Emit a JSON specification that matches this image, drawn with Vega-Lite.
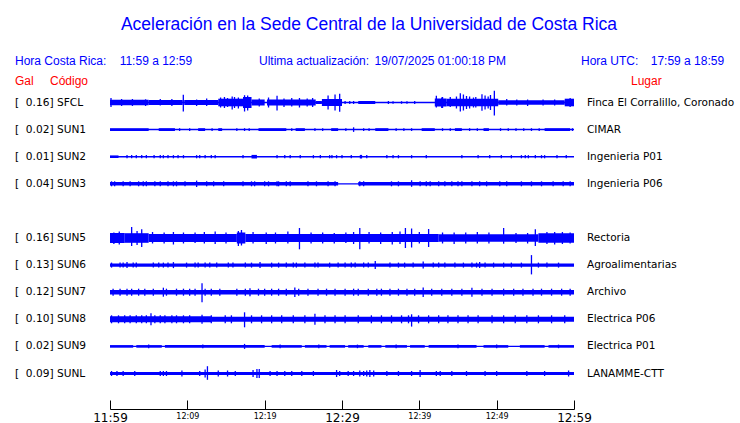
{
"$schema": "https://vega.github.io/schema/vega-lite/v6.json",
"width": 464,
"height": 319,
"autosize": {"type": "none"},
"padding": {"left": 110, "top": 90, "right": 166, "bottom": 14},
"background": "white",
"config": {"view": {"stroke": null}},
"datasets": {
"stations": [
{"s":"SFCL","gal":0.16,"lane":0,"place":"Finca El Corralillo, Coronado"},
{"s":"SUN1","gal":0.02,"lane":1,"place":"CIMAR"},
{"s":"SUN2","gal":0.01,"lane":2,"place":"Ingenieria P01"},
{"s":"SUN3","gal":0.04,"lane":3,"place":"Ingenieria P06"},
{"s":"SUN5","gal":0.16,"lane":5,"place":"Rectoria"},
{"s":"SUN6","gal":0.13,"lane":6,"place":"Agroalimentarias"},
{"s":"SUN7","gal":0.12,"lane":7,"place":"Archivo"},
{"s":"SUN8","gal":0.10,"lane":8,"place":"Electrica P06"},
{"s":"SUN9","gal":0.02,"lane":9,"place":"Electrica P01"},
{"s":"SUNL","gal":0.09,"lane":10,"place":"LANAMME-CTT"}
],
"bands": [
{"s":"SFCL","t0":0,"t1":60,"a":0.7},
{"s":"SFCL","t0":0,"t1":5.0,"a":2.8},
{"s":"SFCL","t0":5.0,"t1":9.4,"a":2.6},
{"s":"SFCL","t0":9.6,"t1":14.0,"a":2.4},
{"s":"SFCL","t0":14.0,"t1":17.2,"a":3.8},
{"s":"SFCL","t0":17.2,"t1":18.3,"a":5.5},
{"s":"SFCL","t0":18.3,"t1":20.0,"a":3.0},
{"s":"SFCL","t0":20.3,"t1":26.6,"a":2.9},
{"s":"SFCL","t0":26.6,"t1":27.4,"a":1.5},
{"s":"SFCL","t0":27.4,"t1":30.0,"a":3.5},
{"s":"SFCL","t0":32.1,"t1":34.3,"a":1.5},
{"s":"SFCL","t0":42.0,"t1":43.5,"a":4.0},
{"s":"SFCL","t0":43.5,"t1":50.2,"a":3.8},
{"s":"SFCL","t0":50.2,"t1":58.8,"a":2.2},
{"s":"SFCL","t0":58.8,"t1":60,"a":3.8},
{"s":"SUN1","t0":0,"t1":60,"a":0.75},
{"s":"SUN1","t0":0,"t1":5.0,"a":1.4},
{"s":"SUN1","t0":6.3,"t1":8.4,"a":1.4},
{"s":"SUN1","t0":11.4,"t1":12.3,"a":1.4},
{"s":"SUN1","t0":14.0,"t1":14.5,"a":1.4},
{"s":"SUN1","t0":19.2,"t1":22.8,"a":1.4},
{"s":"SUN1","t0":24.0,"t1":25.2,"a":1.4},
{"s":"SUN1","t0":28.6,"t1":29.5,"a":1.4},
{"s":"SUN1","t0":34.3,"t1":36.0,"a":1.4},
{"s":"SUN1","t0":40.3,"t1":42.0,"a":1.4},
{"s":"SUN1","t0":44.6,"t1":45.5,"a":1.4},
{"s":"SUN1","t0":48.3,"t1":49.0,"a":1.4},
{"s":"SUN1","t0":56.2,"t1":59.5,"a":1.4},
{"s":"SUN2","t0":0,"t1":60,"a":0.7},
{"s":"SUN2","t0":0,"t1":1.1,"a":1.3},
{"s":"SUN2","t0":18.3,"t1":19.0,"a":1.8},
{"s":"SUN2","t0":32.3,"t1":32.6,"a":1.8},
{"s":"SUN3","t0":0,"t1":60,"a":0.6},
{"s":"SUN3","t0":0,"t1":29.5,"a":1.8},
{"s":"SUN3","t0":32.1,"t1":60,"a":1.8},
{"s":"SUN5","t0":0,"t1":1.9,"a":5.0},
{"s":"SUN5","t0":1.9,"t1":5.0,"a":4.8},
{"s":"SUN5","t0":5.0,"t1":16.4,"a":4.0},
{"s":"SUN5","t0":16.4,"t1":17.5,"a":5.5},
{"s":"SUN5","t0":17.5,"t1":42.5,"a":4.0},
{"s":"SUN5","t0":42.5,"t1":55.4,"a":3.8},
{"s":"SUN5","t0":55.4,"t1":60,"a":4.8},
{"s":"SUN6","t0":0,"t1":60,"a":1.6},
{"s":"SUN7","t0":0,"t1":60,"a":2.3},
{"s":"SUN8","t0":0,"t1":13.1,"a":3.0},
{"s":"SUN8","t0":13.1,"t1":60,"a":2.5},
{"s":"SUN9","t0":0,"t1":60,"a":0.7},
{"s":"SUN9","t0":0,"t1":3.0,"a":1.3},
{"s":"SUN9","t0":3.4,"t1":6.7,"a":1.3},
{"s":"SUN9","t0":7.1,"t1":20.0,"a":1.3},
{"s":"SUN9","t0":20.9,"t1":24.8,"a":1.3},
{"s":"SUN9","t0":25.2,"t1":28.0,"a":1.3},
{"s":"SUN9","t0":28.4,"t1":30.4,"a":1.3},
{"s":"SUN9","t0":30.8,"t1":32.8,"a":1.3},
{"s":"SUN9","t0":33.4,"t1":35.1,"a":1.3},
{"s":"SUN9","t0":35.6,"t1":38.4,"a":1.3},
{"s":"SUN9","t0":38.8,"t1":40.7,"a":1.3},
{"s":"SUN9","t0":41.2,"t1":47.4,"a":1.3},
{"s":"SUN9","t0":48.3,"t1":51.5,"a":1.3},
{"s":"SUN9","t0":53.0,"t1":56.2,"a":1.3},
{"s":"SUN9","t0":56.7,"t1":60,"a":1.3},
{"s":"SUNL","t0":0,"t1":60,"a":1.6}
],
"spikes": [
{"s":"SFCL","t":0.13,"u":4.5},{"s":"SFCL","t":1.5,"u":3.5},{"s":"SFCL","t":2.9,"u":3.5},{"s":"SFCL","t":4.6,"u":3.2,"d":3.5},
{"s":"SFCL","t":6.5,"u":3.5,"d":3},{"s":"SFCL","t":8.0,"u":3.5},{"s":"SFCL","t":9.48,"u":7.7,"d":9},{"s":"SFCL","t":11.2,"u":3,"d":3.5},
{"s":"SFCL","t":12.5,"u":4,"d":3.5},{"s":"SFCL","t":14.3,"u":5},{"s":"SFCL","t":14.8,"u":5.5},{"s":"SFCL","t":15.2,"u":4.5},{"s":"SFCL","t":15.8,"u":6,"d":7},
{"s":"SFCL","t":16.1,"u":5.5},{"s":"SFCL","t":16.6,"u":5,"d":6},{"s":"SFCL","t":17.4,"u":7.3,"d":9},{"s":"SFCL","t":17.8,"u":7,"d":8},
{"s":"SFCL","t":19.3,"u":4},{"s":"SFCL","t":20.5,"u":5},{"s":"SFCL","t":21.6,"u":6.7,"d":8},{"s":"SFCL","t":22.5,"u":4,"d":4.5},
{"s":"SFCL","t":23.5,"u":4.5,"d":4},{"s":"SFCL","t":24.5,"u":4.5,"d":5},{"s":"SFCL","t":25.5,"u":4},{"s":"SFCL","t":26.2,"u":4.5},
{"s":"SFCL","t":28.2,"u":7},{"s":"SFCL","t":29.1,"u":8},{"s":"SFCL","t":29.7,"u":8.7,"d":9.3},
{"s":"SFCL","t":30.4,"u":1.5},{"s":"SFCL","t":31.0,"u":1.5},{"s":"SFCL","t":31.5,"u":1.5},{"s":"SFCL","t":36.0,"u":1.5},
{"s":"SFCL","t":36.6,"u":1.3},{"s":"SFCL","t":37.7,"u":1.3},{"s":"SFCL","t":38.4,"u":1.3},{"s":"SFCL","t":39.4,"u":1.5},
{"s":"SFCL","t":42.2,"u":6.7,"d":5},{"s":"SFCL","t":42.9,"u":5,"d":5.5},{"s":"SFCL","t":43.0,"u":5.5},{"s":"SFCL","t":44.0,"u":5.5,"d":4.5},
{"s":"SFCL","t":44.8,"u":6},{"s":"SFCL","t":45.3,"u":9.3,"d":9},{"s":"SFCL","t":45.7,"u":8},{"s":"SFCL","t":46.1,"u":6.5},{"s":"SFCL","t":46.5,"u":6},
{"s":"SFCL","t":47.0,"u":5},{"s":"SFCL","t":47.3,"u":5.5,"d":5},{"s":"SFCL","t":48.1,"u":8.3},{"s":"SFCL","t":48.5,"u":7},{"s":"SFCL","t":48.9,"u":6},
{"s":"SFCL","t":49.2,"u":7.5},{"s":"SFCL","t":49.7,"u":11.7,"d":13},{"s":"SFCL","t":51.3,"u":3.5,"d":3},{"s":"SFCL","t":52.6,"u":3},
{"s":"SFCL","t":54.0,"u":3,"d":3.5},{"s":"SFCL","t":56.0,"u":3},{"s":"SFCL","t":57.5,"u":3},{"s":"SFCL","t":59.5,"u":4.5},
{"s":"SUN1","t":31.5,"u":2.3},{"s":"SUN1","t":9.0,"u":1.4},{"s":"SUN1","t":10.3,"u":1.4},{"s":"SUN1","t":13.2,"u":1.4},{"s":"SUN1","t":16.4,"u":1.4},
{"s":"SUN1","t":17.4,"u":1.4},{"s":"SUN1","t":18.0,"u":1.4},{"s":"SUN1","t":23.5,"u":1.4},{"s":"SUN1","t":26.5,"u":1.4},{"s":"SUN1","t":27.5,"u":1.4},
{"s":"SUN1","t":30.5,"u":1.4},{"s":"SUN1","t":32.8,"u":1.4},{"s":"SUN1","t":33.5,"u":1.4},{"s":"SUN1","t":37.0,"u":1.4},{"s":"SUN1","t":38.0,"u":1.4},
{"s":"SUN1","t":39.0,"u":1.4},{"s":"SUN1","t":43.0,"u":1.4},{"s":"SUN1","t":44.0,"u":1.4},{"s":"SUN1","t":46.5,"u":1.4},{"s":"SUN1","t":47.5,"u":1.4},
{"s":"SUN1","t":50.5,"u":1.4},{"s":"SUN1","t":51.5,"u":1.4},{"s":"SUN1","t":52.5,"u":1.4},{"s":"SUN1","t":53.5,"u":1.4},{"s":"SUN1","t":54.5,"u":1.4},
{"s":"SUN1","t":55.5,"u":1.4},{"s":"SUN1","t":59.8,"u":1.4},
{"s":"SUN2","t":2.2,"u":1.6},{"s":"SUN2","t":2.8,"u":1.6},{"s":"SUN2","t":3.4,"u":1.6},{"s":"SUN2","t":4.1,"u":1.6},{"s":"SUN2","t":4.7,"u":1.6},
{"s":"SUN2","t":5.7,"u":1.6},{"s":"SUN2","t":6.5,"u":1.6},{"s":"SUN2","t":6.9,"u":1.6},{"s":"SUN2","t":7.5,"u":1.6},{"s":"SUN2","t":8.2,"u":1.6},
{"s":"SUN2","t":8.8,"u":1.6},{"s":"SUN2","t":9.5,"u":1.6},{"s":"SUN2","t":11.2,"u":1.6},{"s":"SUN2","t":11.6,"u":1.6},{"s":"SUN2","t":12.3,"u":1.6},
{"s":"SUN2","t":13.1,"u":1.6},{"s":"SUN2","t":13.6,"u":1.6},{"s":"SUN2","t":17.2,"u":1.6},{"s":"SUN2","t":21.6,"u":1.6},{"s":"SUN2","t":22.6,"u":1.6},
{"s":"SUN2","t":23.3,"u":1.6},{"s":"SUN2","t":24.6,"u":1.6},{"s":"SUN2","t":26.3,"u":1.6},{"s":"SUN2","t":27.2,"u":1.6},{"s":"SUN2","t":28.4,"u":1.6},
{"s":"SUN2","t":28.7,"u":1.6},{"s":"SUN2","t":29.3,"u":1.6},{"s":"SUN2","t":30.0,"u":1.6},{"s":"SUN2","t":31.2,"u":1.6},{"s":"SUN2","t":33.2,"u":1.6},
{"s":"SUN2","t":35.8,"u":1.6},{"s":"SUN2","t":36.6,"u":1.6},{"s":"SUN2","t":37.3,"u":1.6},{"s":"SUN2","t":39.0,"u":1.6},{"s":"SUN2","t":40.9,"u":1.6},
{"s":"SUN2","t":45.5,"u":1.6},{"s":"SUN2","t":47.6,"u":1.6},{"s":"SUN2","t":49.1,"u":1.6},{"s":"SUN2","t":50.6,"u":1.6},{"s":"SUN2","t":51.9,"u":1.6},
{"s":"SUN2","t":53.2,"u":1.6},{"s":"SUN2","t":53.7,"u":1.6},{"s":"SUN2","t":54.1,"u":1.6},{"s":"SUN2","t":55.0,"u":1.6},{"s":"SUN2","t":55.8,"u":1.6},
{"s":"SUN2","t":56.2,"u":1.6},{"s":"SUN2","t":57.8,"u":1.6},{"s":"SUN2","t":59.0,"u":1.6},
{"s":"SUN3","t":0.2,"u":2.5},{"s":"SUN3","t":0.6,"u":2.5},{"s":"SUN3","t":1.7,"u":2.5},{"s":"SUN3","t":2.6,"u":2.5},{"s":"SUN3","t":3.7,"u":2.5},
{"s":"SUN3","t":4.3,"u":2.5},{"s":"SUN3","t":4.7,"u":2.5},{"s":"SUN3","t":5.8,"u":2.5},{"s":"SUN3","t":6.5,"u":2.5},{"s":"SUN3","t":7.5,"u":2.5},
{"s":"SUN3","t":8.2,"u":2.5},{"s":"SUN3","t":8.6,"u":2.5},{"s":"SUN3","t":9.7,"u":2.5},{"s":"SUN3","t":11.2,"u":3.2},{"s":"SUN3","t":12.5,"u":2.5},
{"s":"SUN3","t":13.4,"u":2.5},{"s":"SUN3","t":14.7,"u":2.5},{"s":"SUN3","t":17.2,"u":2.5},{"s":"SUN3","t":18.3,"u":2.5},{"s":"SUN3","t":18.7,"u":2.5},
{"s":"SUN3","t":20.0,"u":2.5},{"s":"SUN3","t":20.5,"u":2.5},{"s":"SUN3","t":21.6,"u":2.5},{"s":"SUN3","t":21.8,"u":2.5},{"s":"SUN3","t":22.8,"u":2.5},
{"s":"SUN3","t":23.3,"u":2.5},{"s":"SUN3","t":25.6,"u":2.5},{"s":"SUN3","t":26.7,"u":2.5},{"s":"SUN3","t":28.2,"u":2.5},{"s":"SUN3","t":29.1,"u":2.5},
{"s":"SUN3","t":32.3,"u":2.5},{"s":"SUN3","t":32.8,"u":2.5},{"s":"SUN3","t":36.4,"u":2.5},{"s":"SUN3","t":37.3,"u":2.5},{"s":"SUN3","t":39.0,"u":3.5,"d":3},
{"s":"SUN3","t":40.1,"u":2.5},{"s":"SUN3","t":40.9,"u":2.5},{"s":"SUN3","t":41.4,"u":2.5},{"s":"SUN3","t":42.5,"u":2.5},{"s":"SUN3","t":43.3,"u":2.5},
{"s":"SUN3","t":44.2,"u":2.5},{"s":"SUN3","t":45.0,"u":2.5},{"s":"SUN3","t":45.5,"u":2.5},{"s":"SUN3","t":46.8,"u":2.5},{"s":"SUN3","t":47.8,"u":2.5},
{"s":"SUN3","t":48.7,"u":2.5},{"s":"SUN3","t":50.4,"u":2.5},{"s":"SUN3","t":51.3,"u":2.5},{"s":"SUN3","t":53.2,"u":2.5},{"s":"SUN3","t":54.5,"u":2.5},
{"s":"SUN3","t":55.8,"u":2.5},{"s":"SUN3","t":57.3,"u":2.5},{"s":"SUN3","t":58.6,"u":2.5},{"s":"SUN3","t":59.5,"u":2.5},
{"s":"SUN5","t":0.5,"u":5.5,"d":6},{"s":"SUN5","t":1.2,"u":6.5},{"s":"SUN5","t":2.8,"u":11,"d":8},{"s":"SUN5","t":3.5,"u":7},
{"s":"SUN5","t":4.1,"u":8.7,"d":9},{"s":"SUN5","t":5.5,"u":6,"d":5.5},{"s":"SUN5","t":7.0,"u":5.5},{"s":"SUN5","t":8.2,"u":6,"d":6.5},
{"s":"SUN5","t":9.5,"u":5.5},{"s":"SUN5","t":11.0,"u":5.5,"d":5},{"s":"SUN5","t":12.2,"u":6,"d":5.5},{"s":"SUN5","t":13.6,"u":6.5,"d":6},
{"s":"SUN5","t":15.0,"u":5.5},{"s":"SUN5","t":16.6,"u":7,"d":8},{"s":"SUN5","t":17.0,"u":8,"d":7.5},{"s":"SUN5","t":18.5,"u":6,"d":5.5},
{"s":"SUN5","t":20.2,"u":5.5,"d":6},{"s":"SUN5","t":21.4,"u":5.5},{"s":"SUN5","t":23.0,"u":6.5,"d":5.5},{"s":"SUN5","t":24.5,"u":10,"d":11.3},
{"s":"SUN5","t":26.0,"u":5.5},{"s":"SUN5","t":27.5,"u":5.5},{"s":"SUN5","t":29.0,"u":5,"d":5.5},{"s":"SUN5","t":30.5,"u":5.5,"d":5},
{"s":"SUN5","t":31.5,"u":6},{"s":"SUN5","t":32.3,"u":10,"d":11.3},{"s":"SUN5","t":33.5,"u":6,"d":5.5},{"s":"SUN5","t":35.0,"u":5.5,"d":6},
{"s":"SUN5","t":36.5,"u":6,"d":6.5},{"s":"SUN5","t":37.5,"u":6.5,"d":6},{"s":"SUN5","t":38.2,"u":10},{"s":"SUN5","t":39.0,"u":9.5},
{"s":"SUN5","t":40.0,"u":6,"d":5.5},{"s":"SUN5","t":41.2,"u":9},{"s":"SUN5","t":43.0,"u":5.5},{"s":"SUN5","t":44.5,"u":5.5,"d":6},
{"s":"SUN5","t":46.0,"u":5.5},{"s":"SUN5","t":47.5,"u":6,"d":5.5},{"s":"SUN5","t":49.0,"u":5.5},{"s":"SUN5","t":50.9,"u":10,"d":5.7},
{"s":"SUN5","t":52.5,"u":5},{"s":"SUN5","t":54.0,"u":5,"d":5.5},{"s":"SUN5","t":55.0,"u":8.7,"d":8},{"s":"SUN5","t":56.5,"u":6},
{"s":"SUN5","t":57.5,"u":6,"d":6.5},{"s":"SUN5","t":58.5,"u":6},{"s":"SUN5","t":59.5,"u":5.5},
{"s":"SUN6","t":0.2,"u":2.5},{"s":"SUN6","t":1.3,"u":2.5},{"s":"SUN6","t":1.7,"u":2.5},{"s":"SUN6","t":2.2,"u":3},{"s":"SUN6","t":3.0,"u":2.5},
{"s":"SUN6","t":3.4,"u":2.5},{"s":"SUN6","t":5.6,"u":2.5},{"s":"SUN6","t":6.3,"u":2.5},{"s":"SUN6","t":6.9,"u":2.5},{"s":"SUN6","t":7.5,"u":2.5},
{"s":"SUN6","t":8.2,"u":3},{"s":"SUN6","t":9.9,"u":2.5},{"s":"SUN6","t":11.0,"u":2.5},{"s":"SUN6","t":11.4,"u":2.5},{"s":"SUN6","t":12.3,"u":2.5},
{"s":"SUN6","t":12.9,"u":2.5},{"s":"SUN6","t":13.8,"u":2.5},{"s":"SUN6","t":15.3,"u":2.5},{"s":"SUN6","t":15.9,"u":2.5},{"s":"SUN6","t":17.5,"u":2.5},
{"s":"SUN6","t":18.3,"u":2.5},{"s":"SUN6","t":19.4,"u":3},{"s":"SUN6","t":20.9,"u":2.5},{"s":"SUN6","t":21.8,"u":2.5},{"s":"SUN6","t":22.8,"u":2.5},
{"s":"SUN6","t":23.7,"u":2.5},{"s":"SUN6","t":24.1,"u":2.5},{"s":"SUN6","t":25.2,"u":2.5},{"s":"SUN6","t":26.5,"u":2.5},{"s":"SUN6","t":26.9,"u":2.5},
{"s":"SUN6","t":28.4,"u":2.5},{"s":"SUN6","t":29.5,"u":2.5},{"s":"SUN6","t":30.4,"u":2.5},{"s":"SUN6","t":31.2,"u":2.5},{"s":"SUN6","t":31.7,"u":2.5},
{"s":"SUN6","t":32.8,"u":2.5},{"s":"SUN6","t":33.4,"u":2.5},{"s":"SUN6","t":34.3,"u":4},{"s":"SUN6","t":36.2,"u":2.5},{"s":"SUN6","t":37.3,"u":2.5},
{"s":"SUN6","t":38.1,"u":2.5},{"s":"SUN6","t":39.2,"u":2.5},{"s":"SUN6","t":40.5,"u":3.5},{"s":"SUN6","t":41.8,"u":2.5},{"s":"SUN6","t":42.5,"u":2.5},
{"s":"SUN6","t":43.3,"u":2.5},{"s":"SUN6","t":44.6,"u":2.5},{"s":"SUN6","t":45.7,"u":2.5},{"s":"SUN6","t":46.8,"u":2.5},{"s":"SUN6","t":47.4,"u":2.5},
{"s":"SUN6","t":47.8,"u":3},{"s":"SUN6","t":48.5,"u":2.5},{"s":"SUN6","t":49.6,"u":2.5},{"s":"SUN6","t":50.9,"u":2.5},{"s":"SUN6","t":51.9,"u":2.5},
{"s":"SUN6","t":53.2,"u":2.5},{"s":"SUN6","t":54.5,"u":10,"d":9.3},{"s":"SUN6","t":55.4,"u":2.5},{"s":"SUN6","t":56.5,"u":2.5},{"s":"SUN6","t":58.0,"u":2.5},
{"s":"SUN7","t":0.4,"u":3.5},{"s":"SUN7","t":1.3,"u":3.5},{"s":"SUN7","t":2.2,"u":3.5},{"s":"SUN7","t":2.8,"u":3.5},{"s":"SUN7","t":3.7,"u":3.5},
{"s":"SUN7","t":4.5,"u":3.5},{"s":"SUN7","t":5.6,"u":3.5},{"s":"SUN7","t":6.9,"u":4.5},{"s":"SUN7","t":7.3,"u":3.5},{"s":"SUN7","t":8.6,"u":3.5},
{"s":"SUN7","t":9.5,"u":3.5},{"s":"SUN7","t":10.3,"u":3.5},{"s":"SUN7","t":11.0,"u":3.5},{"s":"SUN7","t":11.9,"u":9,"d":10},{"s":"SUN7","t":12.3,"u":3.5},
{"s":"SUN7","t":13.1,"u":3.5},{"s":"SUN7","t":14.2,"u":3.5},{"s":"SUN7","t":16.4,"u":3.5},{"s":"SUN7","t":17.5,"u":3.5},{"s":"SUN7","t":18.1,"u":4},
{"s":"SUN7","t":19.2,"u":3.5},{"s":"SUN7","t":20.0,"u":3.5},{"s":"SUN7","t":20.9,"u":3.5},{"s":"SUN7","t":21.8,"u":3.5},{"s":"SUN7","t":22.8,"u":3.5},
{"s":"SUN7","t":23.9,"u":4.7},{"s":"SUN7","t":24.4,"u":3.5},{"s":"SUN7","t":25.6,"u":3.5},{"s":"SUN7","t":26.9,"u":3.5},{"s":"SUN7","t":28.0,"u":3.5},
{"s":"SUN7","t":29.1,"u":3.5},{"s":"SUN7","t":30.4,"u":3.5},{"s":"SUN7","t":31.5,"u":3.5},{"s":"SUN7","t":32.1,"u":3.5},{"s":"SUN7","t":33.4,"u":3.5},
{"s":"SUN7","t":34.5,"u":3.5},{"s":"SUN7","t":35.1,"u":3.5},{"s":"SUN7","t":36.2,"u":3.5},{"s":"SUN7","t":37.3,"u":3.5},{"s":"SUN7","t":38.4,"u":3.5},
{"s":"SUN7","t":39.4,"u":3.5},{"s":"SUN7","t":40.5,"u":4.7},{"s":"SUN7","t":41.6,"u":3.5},{"s":"SUN7","t":42.9,"u":3.5},{"s":"SUN7","t":44.2,"u":3.5},
{"s":"SUN7","t":45.5,"u":3.5},{"s":"SUN7","t":46.8,"u":4.5},{"s":"SUN7","t":48.1,"u":3.5},{"s":"SUN7","t":49.4,"u":3.5},{"s":"SUN7","t":50.9,"u":3.5},
{"s":"SUN7","t":52.2,"u":3.5},{"s":"SUN7","t":53.4,"u":3.5},{"s":"SUN7","t":54.7,"u":3.5},{"s":"SUN7","t":55.8,"u":3.5},{"s":"SUN7","t":57.1,"u":3.5},
{"s":"SUN7","t":58.4,"u":3.5},{"s":"SUN7","t":59.5,"u":3.5},
{"s":"SUN8","t":0.2,"u":4},{"s":"SUN8","t":1.1,"u":4},{"s":"SUN8","t":1.9,"u":4},{"s":"SUN8","t":2.6,"u":4},{"s":"SUN8","t":3.4,"u":4},
{"s":"SUN8","t":4.1,"u":4},{"s":"SUN8","t":4.7,"u":4},{"s":"SUN8","t":5.3,"u":6},{"s":"SUN8","t":5.8,"u":4},{"s":"SUN8","t":6.5,"u":4},
{"s":"SUN8","t":7.1,"u":4},{"s":"SUN8","t":8.0,"u":4},{"s":"SUN8","t":8.6,"u":4},{"s":"SUN8","t":9.5,"u":4},{"s":"SUN8","t":10.3,"u":4},
{"s":"SUN8","t":11.9,"u":4.5},{"s":"SUN8","t":13.1,"u":4},{"s":"SUN8","t":14.9,"u":4},{"s":"SUN8","t":15.7,"u":4},{"s":"SUN8","t":17.4,"u":7,"d":8},
{"s":"SUN8","t":18.3,"u":4},{"s":"SUN8","t":19.6,"u":4},{"s":"SUN8","t":20.9,"u":4},{"s":"SUN8","t":22.2,"u":4},{"s":"SUN8","t":23.7,"u":4},
{"s":"SUN8","t":25.2,"u":4},{"s":"SUN8","t":26.5,"u":5.5},{"s":"SUN8","t":27.8,"u":4},{"s":"SUN8","t":29.1,"u":4},{"s":"SUN8","t":30.4,"u":4},
{"s":"SUN8","t":32.1,"u":4},{"s":"SUN8","t":33.8,"u":4},{"s":"SUN8","t":35.1,"u":4},{"s":"SUN8","t":36.4,"u":4},{"s":"SUN8","t":37.7,"u":4},
{"s":"SUN8","t":38.6,"u":4},{"s":"SUN8","t":39.0,"u":5,"d":7.3},{"s":"SUN8","t":39.9,"u":4},{"s":"SUN8","t":41.2,"u":4},{"s":"SUN8","t":42.5,"u":4},
{"s":"SUN8","t":43.7,"u":4},{"s":"SUN8","t":45.0,"u":4},{"s":"SUN8","t":46.3,"u":4},{"s":"SUN8","t":47.6,"u":4},{"s":"SUN8","t":49.4,"u":4},
{"s":"SUN8","t":50.9,"u":4},{"s":"SUN8","t":52.4,"u":4},{"s":"SUN8","t":53.9,"u":4},{"s":"SUN8","t":55.4,"u":4},{"s":"SUN8","t":57.1,"u":4},
{"s":"SUN8","t":58.8,"u":4},
{"s":"SUN9","t":17.4,"u":2.5},{"s":"SUN9","t":5.0,"u":1.8},{"s":"SUN9","t":12.0,"u":1.8},{"s":"SUN9","t":22.0,"u":1.8},{"s":"SUN9","t":27.0,"u":1.8},
{"s":"SUN9","t":32.0,"u":1.8},{"s":"SUN9","t":37.0,"u":1.8},{"s":"SUN9","t":45.0,"u":1.8},{"s":"SUN9","t":50.0,"u":1.8},{"s":"SUN9","t":58.0,"u":1.8},
{"s":"SUNL","t":0.2,"u":2.5},{"s":"SUNL","t":0.9,"u":2.5},{"s":"SUNL","t":1.7,"u":2.5},{"s":"SUNL","t":3.2,"u":2.5},{"s":"SUNL","t":6.5,"u":2.5},
{"s":"SUNL","t":6.9,"u":2.5},{"s":"SUNL","t":7.3,"u":2.5},{"s":"SUNL","t":9.3,"u":3},{"s":"SUNL","t":11.6,"u":2.5},{"s":"SUNL","t":12.3,"u":4},
{"s":"SUNL","t":12.6,"u":7.3,"d":6.3},{"s":"SUNL","t":14.0,"u":3},{"s":"SUNL","t":15.2,"u":3},{"s":"SUNL","t":16.2,"u":2.5},{"s":"SUNL","t":18.5,"u":3.5},
{"s":"SUNL","t":19.0,"u":4.5},{"s":"SUNL","t":19.3,"u":4.5},{"s":"SUNL","t":20.7,"u":2.5},{"s":"SUNL","t":21.6,"u":2.5},{"s":"SUNL","t":22.6,"u":2.5},
{"s":"SUNL","t":23.5,"u":2.5},{"s":"SUNL","t":24.8,"u":2.5},{"s":"SUNL","t":26.3,"u":2.5},{"s":"SUNL","t":29.3,"u":3.5},{"s":"SUNL","t":29.7,"u":2.5},
{"s":"SUNL","t":30.8,"u":2.5},{"s":"SUNL","t":31.5,"u":2.5},{"s":"SUNL","t":32.3,"u":3},{"s":"SUNL","t":32.8,"u":2.5},{"s":"SUNL","t":33.2,"u":3},
{"s":"SUNL","t":33.6,"u":3.5},{"s":"SUNL","t":34.1,"u":3},{"s":"SUNL","t":35.8,"u":2.5},{"s":"SUNL","t":37.3,"u":2.5},{"s":"SUNL","t":39.0,"u":2.5},
{"s":"SUNL","t":40.1,"u":3.5},{"s":"SUNL","t":42.2,"u":2.5},{"s":"SUNL","t":42.7,"u":2.5},{"s":"SUNL","t":44.2,"u":2.5},{"s":"SUNL","t":46.1,"u":2.5},
{"s":"SUNL","t":48.5,"u":2.5},{"s":"SUNL","t":50.0,"u":2.5},{"s":"SUNL","t":53.9,"u":2.5},{"s":"SUNL","t":56.2,"u":2.5},{"s":"SUNL","t":59.3,"u":3}
]
},
"layer": [
{
"data": {"name": "bands"},
"transform": [
{"lookup": "s", "from": {"data": {"name": "stations"}, "key": "s", "fields": ["lane"]}},
{"calculate": "datum.lane - datum.a / 27.1", "as": "y1"},
{"calculate": "datum.lane + datum.a / 27.1", "as": "y2"}
],
"mark": {"type": "rect", "color": "#0000ff"},
"encoding": {
"x": {"field": "t0", "type": "quantitative", "scale": {"domain": [0, 60], "nice": false, "zero": false},
"axis": {"values": [0,5,10,15,20,25,30,35,40,45,50,55,60],
"labelExpr": "datum.value % 10 != 0 ? '' : (floor((719 + datum.value) / 60) + ':' + ((719 + datum.value) % 60 < 10 ? '0' : '') + ((719 + datum.value) % 60))",
"labelFontSize": {"condition": {"test": "datum.value % 30 == 0", "value": 12}, "value": 8},
"labelFont": "DejaVu Sans", "labelColor": "#000000", "labelBaseline": "top", "labelPadding": 12,
"labelFlush": false, "labelOverlap": false, "labelBound": false,
"tickSize": -9, "tickColor": "#000000", "tickWidth": 1,
"domainColor": "#000000", "domainWidth": 1, "grid": false, "title": null}},
"x2": {"field": "t1"},
"y": {"field": "y1", "type": "quantitative", "scale": {"domain": [-0.4613, 11.3099], "reverse": true, "nice": false, "zero": false}, "axis": null},
"y2": {"field": "y2"}
}
},
{
"data": {"name": "spikes"},
"transform": [
{"lookup": "s", "from": {"data": {"name": "stations"}, "key": "s", "fields": ["lane"]}},
{"calculate": "datum.lane - datum.u / 27.1", "as": "yu"},
{"calculate": "datum.lane + (isValid(datum.d) ? datum.d : datum.u) / 27.1", "as": "yd"}
],
"mark": {"type": "rule", "color": "#0000ff", "strokeWidth": 1.3},
"encoding": {
"x": {"field": "t", "type": "quantitative"},
"y": {"field": "yu", "type": "quantitative"},
"y2": {"field": "yd"}
}
},
{
"data": {"name": "stations"},
"transform": [{"calculate": "'[\u00a0\u00a0' + format(datum.gal, '.2f') + '] ' + datum.s", "as": "label"}],
"mark": {"type": "text", "align": "left", "baseline": "middle", "font": "DejaVu Sans", "fontSize": 10.6, "color": "#000000"},
"encoding": {
"x": {"datum": -12.284},
"y": {"field": "lane", "type": "quantitative"},
"text": {"field": "label"}
}
},
{
"data": {"name": "stations"},
"mark": {"type": "text", "align": "left", "baseline": "middle", "font": "DejaVu Sans", "fontSize": 10.5, "color": "#000000"},
"encoding": {
"x": {"datum": 61.68},
"y": {"field": "lane", "type": "quantitative"},
"text": {"field": "place"}
}
},
{
"data": {"values": [{"txt": "Aceleración en la Sede Central de la Universidad de Costa Rica"}]},
"mark": {"type": "text", "align": "center", "baseline": "alphabetic", "font": "Liberation Sans", "fontSize": 17.5, "color": "#0000ff"},
"encoding": {"x": {"datum": 33.49}, "y": {"datum": -2.686}, "text": {"field": "txt"}}
},
{
"data": {"values": [{"txt": "Hora Costa Rica:"}]},
"mark": {"type": "text", "align": "left", "baseline": "alphabetic", "font": "Liberation Sans", "fontSize": 12, "color": "#0000ff"},
"encoding": {"x": {"datum": -12.284}, "y": {"datum": -1.402}, "text": {"field": "txt"}}
},
{
"data": {"values": [{"txt": "11:59 a 12:59"}]},
"mark": {"type": "text", "align": "left", "baseline": "alphabetic", "font": "Liberation Sans", "fontSize": 12, "color": "#0000ff"},
"encoding": {"x": {"datum": 1.25}, "y": {"datum": -1.402}, "text": {"field": "txt"}}
},
{
"data": {"values": [{"txt": "Ultima actualización:"}]},
"mark": {"type": "text", "align": "left", "baseline": "alphabetic", "font": "Liberation Sans", "fontSize": 12, "color": "#0000ff"},
"encoding": {"x": {"datum": 19.27}, "y": {"datum": -1.402}, "text": {"field": "txt"}}
},
{
"data": {"values": [{"txt": "19/07/2025 01:00:18 PM"}]},
"mark": {"type": "text", "align": "left", "baseline": "alphabetic", "font": "Liberation Sans", "fontSize": 12, "color": "#0000ff"},
"encoding": {"x": {"datum": 34.2}, "y": {"datum": -1.402}, "text": {"field": "txt"}}
},
{
"data": {"values": [{"txt": "Hora UTC:"}]},
"mark": {"type": "text", "align": "left", "baseline": "alphabetic", "font": "Liberation Sans", "fontSize": 12, "color": "#0000ff"},
"encoding": {"x": {"datum": 60.9}, "y": {"datum": -1.402}, "text": {"field": "txt"}}
},
{
"data": {"values": [{"txt": "17:59 a 18:59"}]},
"mark": {"type": "text", "align": "left", "baseline": "alphabetic", "font": "Liberation Sans", "fontSize": 12, "color": "#0000ff"},
"encoding": {"x": {"datum": 69.92}, "y": {"datum": -1.402}, "text": {"field": "txt"}}
},
{
"data": {"values": [{"txt": "Gal"}]},
"mark": {"type": "text", "align": "left", "baseline": "alphabetic", "font": "Liberation Sans", "fontSize": 12, "color": "#ff0000"},
"encoding": {"x": {"datum": -12.284}, "y": {"datum": -0.664}, "text": {"field": "txt"}}
},
{
"data": {"values": [{"txt": "Código"}]},
"mark": {"type": "text", "align": "left", "baseline": "alphabetic", "font": "Liberation Sans", "fontSize": 12, "color": "#ff0000"},
"encoding": {"x": {"datum": -7.76}, "y": {"datum": -0.664}, "text": {"field": "txt"}}
},
{
"data": {"values": [{"txt": "Lugar"}]},
"mark": {"type": "text", "align": "left", "baseline": "alphabetic", "font": "Liberation Sans", "fontSize": 12, "color": "#ff0000"},
"encoding": {"x": {"datum": 67.37}, "y": {"datum": -0.664}, "text": {"field": "txt"}}
}
]
}
